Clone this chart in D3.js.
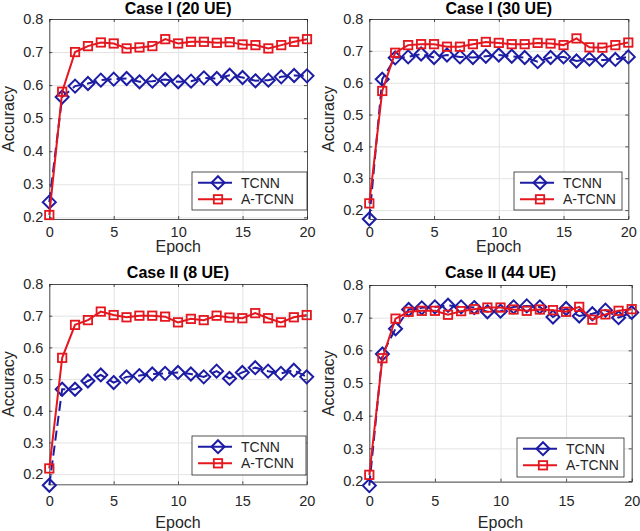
<!DOCTYPE html>
<meta charset="utf-8">
<body style="margin:0; background:#fff;">
<script src="https://d3js.org/d3.v7.min.js"></script>
<svg id="chart" width="640" height="531"></svg>
<script>
// ---- data ----
var epochs = [0,1,2,3,4,5,6,7,8,9,10,11,12,13,14,15,16,17,18,19,20];
var titles = ["Case I (20 UE)", "Case I (30 UE)", "Case II (8 UE)", "Case II (44 UE)"];
var seriesNames = ["TCNN", "A-TCNN"];
var xTicks = [0, 5, 10, 15, 20];
var yTicks = [0.2, 0.3, 0.4, 0.5, 0.6, 0.7, 0.8];
var yLower = [0.195, 0.172, 0.168, 0.198];

var tcnn20  = [0.246,0.564,0.597,0.605,0.615,0.618,0.620,0.610,0.612,0.617,0.610,0.612,0.622,0.620,0.630,0.623,0.613,0.615,0.625,0.629,0.628];
var atcnn20 = [0.207,0.580,0.700,0.718,0.729,0.726,0.711,0.714,0.718,0.739,0.726,0.731,0.731,0.728,0.730,0.723,0.721,0.711,0.721,0.731,0.739];

var tcnn30  = [0.172,0.611,0.678,0.681,0.690,0.679,0.687,0.681,0.679,0.683,0.687,0.683,0.679,0.666,0.679,0.681,0.668,0.674,0.671,0.673,0.681];
var atcnn30 = [0.221,0.574,0.694,0.718,0.721,0.721,0.713,0.713,0.721,0.728,0.725,0.721,0.721,0.725,0.723,0.718,0.739,0.711,0.710,0.718,0.726];

var tcnn8   = [0.165,0.468,0.468,0.494,0.513,0.489,0.507,0.511,0.516,0.518,0.521,0.516,0.507,0.525,0.502,0.521,0.536,0.525,0.518,0.528,0.507];
var atcnn8  = [0.218,0.567,0.671,0.686,0.713,0.702,0.695,0.700,0.700,0.697,0.679,0.690,0.686,0.700,0.694,0.692,0.708,0.692,0.679,0.695,0.702];

var tcnn44  = [0.186,0.589,0.666,0.725,0.730,0.733,0.738,0.733,0.731,0.718,0.720,0.733,0.736,0.733,0.702,0.728,0.705,0.712,0.723,0.700,0.716];
var atcnn44 = [0.219,0.576,0.697,0.718,0.721,0.721,0.709,0.720,0.726,0.731,0.731,0.725,0.721,0.725,0.723,0.718,0.733,0.694,0.710,0.721,0.726];

var tcnnAll  = [tcnn20, tcnn30, tcnn8, tcnn44];
var atcnnAll = [atcnn20, atcnn30, atcnn8, atcnn44];

// ---- layout ----
var panels = [
  {left:49.3, right:307, top:19, bottom:219, titleY:13.5, tickY:236.5, xlabY:252, ylabX:13.5, leg:{x:192, y:172, w:115, h:38}},
  {left:369.3, right:628.3, top:19, bottom:219, titleY:13.5, tickY:236.5, xlabY:252, ylabX:333.5, leg:{x:514, y:172, w:108, h:38}},
  {left:49.3, right:306.7, top:284, bottom:484.3, titleY:278, tickY:506.5, xlabY:528, ylabX:13.5, leg:{x:192, y:436, w:114, h:39}},
  {left:369.3, right:631.7, top:285, bottom:481.7, titleY:278, tickY:506.5, xlabY:528, ylabX:333.5, leg:{x:517, y:438, w:107, h:39}}
];

var blue = "#1c1ca4", red = "#e4161e", axisCol = "#262626";
var font = "'Liberation Sans', Arial, sans-serif";

var svg = d3.select("#chart");

function diamond(g, x, y) {
  g.append("path")
    .attr("d", "M" + x + "," + (y - 6.5) + "L" + (x + 6.5) + "," + y + "L" + x + "," + (y + 6.5) + "L" + (x - 6.5) + "," + y + "Z")
    .attr("fill", "none").attr("stroke", blue).attr("stroke-width", 2);
}
function square(g, x, y) {
  g.append("rect")
    .attr("x", x - 4.2).attr("y", y - 4.2).attr("width", 8.4).attr("height", 8.4)
    .attr("fill", "none").attr("stroke", red).attr("stroke-width", 1.8);
}

panels.forEach(function(p, i) {
  var w = p.right - p.left, h = p.bottom - p.top;
  var x = d3.scaleLinear().domain([0, 20]).range([p.left, p.right]);
  var y = d3.scaleLinear().domain([yLower[i], 0.8]).range([p.bottom, p.top]);
  var g = svg.append("g");

  // grid
  g.append("g").attr("transform", "translate(0," + p.bottom + ")")
    .call(d3.axisBottom(x).tickValues(xTicks).tickSize(-h).tickFormat(""))
    .call(function(a) { a.select(".domain").remove(); a.selectAll("line").attr("stroke", "#e3e3e3"); });
  g.append("g").attr("transform", "translate(" + p.left + ",0)")
    .call(d3.axisLeft(y).tickValues(yTicks).tickSize(-w).tickFormat(""))
    .call(function(a) { a.select(".domain").remove(); a.selectAll("line").attr("stroke", "#e3e3e3"); });

  // axes box with inward ticks
  var ax = [
    g.append("g").attr("transform", "translate(0," + p.bottom + ")")
      .call(d3.axisBottom(x).tickValues(xTicks).tickSize(-3).tickSizeOuter(0).tickPadding(0).tickFormat(d3.format("d"))),
    g.append("g").attr("transform", "translate(0," + p.top + ")")
      .call(d3.axisTop(x).tickValues(xTicks).tickSize(-3).tickSizeOuter(0).tickFormat("")),
    g.append("g").attr("transform", "translate(" + p.left + ",0)")
      .call(d3.axisLeft(y).tickValues(yTicks).tickSize(-3).tickSizeOuter(0).tickPadding(6).tickFormat(d3.format(".1f"))),
    g.append("g").attr("transform", "translate(" + p.right + ",0)")
      .call(d3.axisRight(y).tickValues(yTicks).tickSize(-3).tickSizeOuter(0).tickFormat(""))
  ];
  ax.forEach(function(a) {
    a.select(".domain").attr("stroke", axisCol).attr("stroke-width", 0.8);
    a.selectAll("line").attr("stroke", axisCol).attr("stroke-width", 0.8);
    a.selectAll("text").attr("fill", axisCol).style("font-family", font).style("font-size", "14.5px");
  });
  ax[0].selectAll("text").attr("dy", null).attr("y", p.tickY - p.bottom);

  // lines
  var line = d3.line().x(function(d, k) { return x(epochs[k]); }).y(function(d) { return y(d); });
  g.append("path").datum(tcnnAll[i]).attr("d", line)
    .attr("fill", "none").attr("stroke", blue).attr("stroke-width", 2).attr("stroke-dasharray", "10,5");
  tcnnAll[i].forEach(function(v, k) { diamond(g, x(epochs[k]), y(v)); });
  g.append("path").datum(atcnnAll[i]).attr("d", line)
    .attr("fill", "none").attr("stroke", red).attr("stroke-width", 2);
  atcnnAll[i].forEach(function(v, k) { square(g, x(epochs[k]), y(v)); });

  // labels
  g.append("text").attr("x", (p.left + p.right) / 2).attr("y", p.titleY)
    .attr("text-anchor", "middle").style("font-family", font).style("font-size", "16px")
    .style("font-weight", "bold").attr("fill", "#000").text(titles[i]);
  g.append("text").attr("x", (p.left + p.right) / 2).attr("y", p.xlabY)
    .attr("text-anchor", "middle").style("font-family", font).style("font-size", "16px")
    .attr("fill", axisCol).text("Epoch");
  g.append("text").attr("transform", "translate(" + p.ylabX + "," + ((p.top + p.bottom) / 2) + ") rotate(-90)")
    .attr("text-anchor", "middle").style("font-family", font).style("font-size", "16px")
    .attr("fill", axisCol).text("Accuracy");

  // legend
  var L = p.leg;
  g.append("rect").attr("x", L.x).attr("y", L.y).attr("width", L.w).attr("height", L.h)
    .attr("fill", "#fff").attr("stroke", axisCol).attr("stroke-width", 0.8);
  var r1 = L.y + 10.7, r2 = L.y + 27.3;
  g.append("line").attr("x1", L.x + 6).attr("x2", L.x + 40).attr("y1", r1).attr("y2", r1)
    .attr("stroke", blue).attr("stroke-width", 2);
  diamond(g, L.x + 26, r1);
  g.append("line").attr("x1", L.x + 6).attr("x2", L.x + 40).attr("y1", r2).attr("y2", r2)
    .attr("stroke", red).attr("stroke-width", 2);
  square(g, L.x + 26, r2);
  [r1, r2].forEach(function(ry, k) {
    g.append("text").attr("x", L.x + 49).attr("y", ry + 5).style("font-family", font)
      .style("font-size", "14px").attr("fill", axisCol).text(seriesNames[k]);
  });
});
</script>
</body>
